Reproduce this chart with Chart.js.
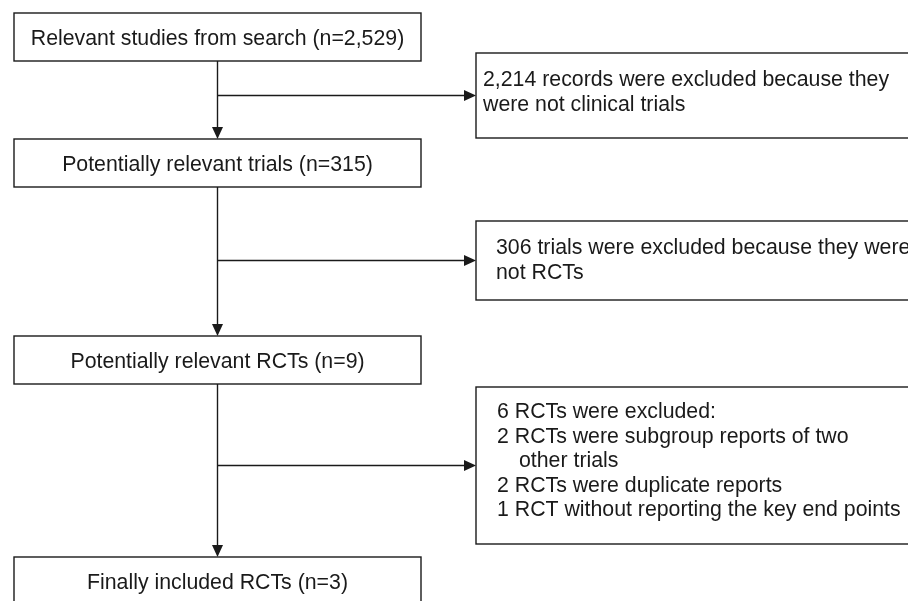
<!DOCTYPE html>
<html>
<head>
<meta charset="utf-8">
<script src="https://cdn.jsdelivr.net/npm/chart.js@4/dist/chart.umd.min.js"></script>
<style>
  html, body { margin: 0; padding: 0; background: #fff; }
  #wrap { width: 908px; height: 601px; }
</style>
</head>
<body>
<div id="wrap"><canvas id="flowChart" width="908" height="601"></canvas></div>
<script>
// Flow data
const stages = ['Relevant studies from search', 'Potentially relevant trials', 'Potentially relevant RCTs', 'Finally included RCTs'];
const stageCounts = [2529, 315, 9, 3];
const excludedCounts = [2214, 306, 6];
const excludedText = [
  ['records were excluded because they', 'were not clinical trials'],
  ['trials were excluded because they were', 'not RCTs'],
  ['RCTs were excluded:']
];
const subReasons = ['RCTs were subgroup reports of two|other trials', 'RCTs were duplicate reports', 'RCT without reporting the key end points'];
const subCounts = [2, 2, 1];

// Layout (canvas units)
const boxLeft = 14, boxRight = 421, boxH = 48, stemX = 217.5;
const stageTops = [13, 139, 336, 557];
const exclLeft = 476, exclRight = 925;
const exclTops = [53, 221, 387];
const exclBottoms = [138, 300, 544];
const exclTextX = [483, 496, 497];
const exclFirstBase = [86, 254, 418];
const lineStep = 24.5;
const FONT = '21.3px "Liberation Sans", Arial, sans-serif';
const INK = '#1a1a1a';

const fmt = n => n.toLocaleString('en-US');

function exclLines(i) {
  const lines = [fmt(excludedCounts[i]) + ' ' + excludedText[i][0]].concat(excludedText[i].slice(1));
  if (i === 2) {
    subReasons.forEach((r, k) => {
      const parts = r.split('|');
      lines.push(subCounts[k] + ' ' + parts[0]);
      parts.slice(1).forEach(p => lines.push('  ' + p));
    });
  }
  return lines;
}

function arrowDown(ctx, x, y) {
  ctx.beginPath();
  ctx.moveTo(x, y);
  ctx.lineTo(x - 5.5, y - 12);
  ctx.lineTo(x + 5.5, y - 12);
  ctx.closePath();
  ctx.fill();
}

function arrowRight(ctx, x, y) {
  ctx.beginPath();
  ctx.moveTo(x, y);
  ctx.lineTo(x - 12, y - 5.5);
  ctx.lineTo(x - 12, y + 5.5);
  ctx.closePath();
  ctx.fill();
}

const flowPlugin = {
  id: 'flow',
  afterDatasetsDraw(chart) {
    const ctx = chart.ctx;
    const sx = chart.scales.x, sy = chart.scales.y;
    const px = v => sx.getPixelForValue(v);
    const py = v => sy.getPixelForValue(v);
    const pts = chart.getDatasetMeta(0).data;

    ctx.save();
    ctx.strokeStyle = INK;
    ctx.fillStyle = INK;
    ctx.lineWidth = 1.4;
    ctx.font = FONT;

    // stage boxes
    pts.forEach((p, i) => {
      const top = py(stageTops[i]);
      const bottom = py(stageTops[i] + boxH);
      ctx.strokeRect(px(boxLeft), top, px(boxRight) - px(boxLeft), bottom - top);
      ctx.textAlign = 'center';
      ctx.textBaseline = 'alphabetic';
      ctx.fillText(stages[i] + ' (n=' + fmt(stageCounts[i]) + ')', p.x, p.y + 7.5);
    });

    // connectors
    for (let i = 0; i < stages.length - 1; i++) {
      const x0 = px(stemX);
      const yA = py(stageTops[i] + boxH);
      const yB = py(stageTops[i + 1]);
      ctx.beginPath();
      ctx.moveTo(x0, yA);
      ctx.lineTo(x0, yB - 10);
      ctx.stroke();
      arrowDown(ctx, x0, yB);

      const ym = py((exclTops[i] + exclBottoms[i]) / 2);
      ctx.beginPath();
      ctx.moveTo(x0, ym);
      ctx.lineTo(px(exclLeft) - 10, ym);
      ctx.stroke();
      arrowRight(ctx, px(exclLeft), ym);
    }

    // exclusion boxes
    exclTops.forEach((t, i) => {
      const top = py(t), bottom = py(exclBottoms[i]);
      ctx.strokeRect(px(exclLeft), top, px(exclRight) - px(exclLeft), bottom - top);
      ctx.textAlign = 'left';
      ctx.textBaseline = 'alphabetic';
      exclLines(i).forEach((line, k) => {
        let x = px(exclTextX[i]);
        let txt = line;
        if (line.startsWith('  ')) { x += 22; txt = line.trim(); }
        ctx.fillText(txt, x, py(exclFirstBase[i] + k * lineStep));
      });
    });
    ctx.restore();
  }
};

new Chart(document.getElementById('flowChart'), {
  type: 'scatter',
  data: {
    datasets: [{
      data: stages.map((s, i) => ({ x: stemX, y: stageTops[i] + boxH / 2 })),
      pointRadius: 0,
      pointHoverRadius: 0
    }]
  },
  options: {
    responsive: false,
    animation: false,
    events: [],
    layout: { padding: 0 },
    plugins: { legend: { display: false }, tooltip: { enabled: false } },
    scales: {
      x: { type: 'linear', min: 0, max: 908, display: false },
      y: { type: 'linear', min: 0, max: 601, reverse: true, display: false }
    }
  },
  plugins: [flowPlugin, {
    id: 'bg',
    beforeDraw(chart) {
      const c = chart.ctx;
      c.save();
      c.fillStyle = '#fff';
      c.fillRect(0, 0, chart.width, chart.height);
      c.restore();
    }
  }]
});
</script>
</body>
</html>
